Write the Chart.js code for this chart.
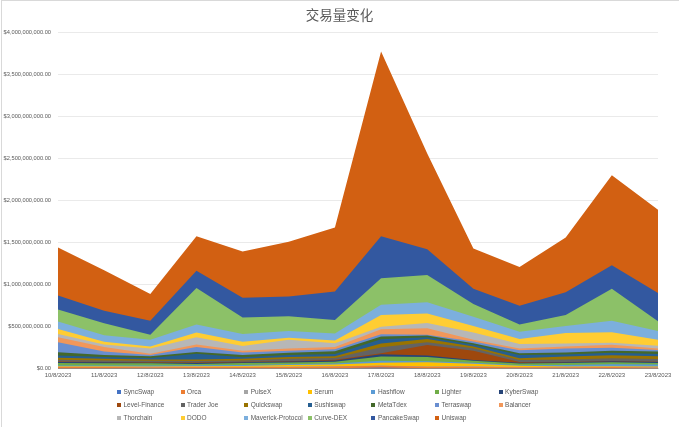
<!DOCTYPE html>
<html>
<head>
<meta charset="utf-8">
<script src="https://cdn.jsdelivr.net/npm/chart.js@4"></script>
<style>
html, body { margin: 0; padding: 0; background: #fff; }
#wrap { position: relative; width: 679px; height: 427px; overflow: hidden; }
#frame { position: absolute; left: 1px; top: 0; width: 677px; height: 426px; border-left: 1px solid #d9d9d9; border-top: 1px solid #d9d9d9; pointer-events: none; }
#legend { position: absolute; left: 117px; top: 385px; width: 450px; display: grid; grid-template-columns: repeat(7, 63.6px); grid-auto-rows: 13px; font: 6.5px "Liberation Sans", sans-serif; color: #595959; white-space: nowrap; }
#legend span { display: flex; align-items: center; line-height: 13px; }
#legend i { display: inline-block; width: 4px; height: 4px; margin-right: 2.5px; flex: none; }
</style>
</head>
<body>
<div id="wrap">
<canvas id="chart" width="679" height="427"></canvas>
<div id="frame"></div>
<div id="legend"></div>
</div>
<script>
const dates = ['10/8/2023', '11/8/2023', '12/8/2023', '13/8/2023', '14/8/2023', '15/8/2023', '16/8/2023', '17/8/2023', '18/8/2023', '19/8/2023', '20/8/2023', '21/8/2023', '22/8/2023', '23/8/2023'];

// values in millions of dollars
const syncSwap = [8, 8, 6, 8, 7, 8, 8, 15, 8, 8, 8, 8, 8, 8];
const orca = [12, 12, 12, 14, 13, 14, 18, 20, 15, 16, 10, 10, 12, 8];
const pulseX = [5, 5, 5, 5, 4, 4, 4, 5, 5, 6, 4, 4, 4, 6];
const serum = [5, 5, 4, 5, 8, 18, 20, 32, 50, 30, 13, 6, 6, 6];
const hashflow = [8, 8, 11, 10, 12, 10, 12, 23, 12, 12, 7, 16, 25, 22];
const lighter = [32, 27, 27, 16, 24, 21, 23, 50, 50, 23, 20, 26, 23, 20];
const kyberSwap = [12, 13, 8, 10, 10, 11, 13, 27, 18, 10, 10, 8, 12, 12];
const levelFinance = [4, 4, 4, 7, 6, 4, 10, 13, 126, 110, 8, 4, 4, 3];
const traderJoe = [22, 18, 18, 17, 16, 30, 20, 70, 31, 30, 25, 30, 31, 30];
const quickswap = [22, 20, 15, 18, 18, 20, 22, 45, 40, 20, 20, 33, 35, 35];
const sushiswap = [28, 20, 18, 70, 20, 25, 25, 50, 20, 20, 40, 25, 30, 25];
const metaTdex = [39, 25, 22, 20, 27, 25, 35, 35, 20, 20, 20, 25, 25, 30];
const terraswap = [118, 40, 15, 60, 30, 25, 22, 25, 11, 20, 35, 45, 35, 17];
const balancer = [59, 55, 15, 30, 20, 25, 26, 60, 75, 20, 20, 25, 35, 18];
const thorchain = [40, 30, 60, 85, 55, 105, 47, 30, 63, 85, 55, 35, 25, 35];
const dodo = [59, 30, 25, 55, 50, 25, 30, 140, 114, 80, 60, 125, 125, 70];
const maverick = [90, 80, 80, 95, 95, 80, 85, 120, 132, 110, 85, 85, 135, 105];
const curveDex = [142, 140, 60, 435, 195, 175, 160, 315, 325, 150, 85, 130, 380, 115];
const pancakeSwap = [165, 150, 165, 205, 235, 235, 340, 500, 305, 180, 225, 270, 280, 335];
const uniswap = [570, 480, 320, 410, 550, 650, 760, 2195, 1140, 480, 460, 650, 1070, 990];

const names = ['SyncSwap', 'Orca', 'PulseX', 'Serum', 'Hashflow', 'Lighter', 'KyberSwap', 'Level-Finance', 'Trader Joe', 'Quickswap', 'Sushiswap', 'MetaTdex', 'Terraswap', 'Balancer', 'Thorchain', 'DODO', 'Maverick-Protocol', 'Curve-DEX', 'PancakeSwap', 'Uniswap'];
const series = [syncSwap, orca, pulseX, serum, hashflow, lighter, kyberSwap, levelFinance, traderJoe, quickswap, sushiswap, metaTdex, terraswap, balancer, thorchain, dodo, maverick, curveDex, pancakeSwap, uniswap];
const colors = ['#4472c4', '#ed7d31', '#a5a5a5', '#ffc000', '#5b9bd5', '#70ad47', '#264478', '#9e480e', '#636363', '#997300', '#255e91', '#43682b', '#698ed0', '#f1975a', '#b7b7b7', '#ffcd33', '#7cafdd', '#8cc168', '#3358a0', '#d26012'];

const datasets = names.map((name, i) => ({
    label: name,
    data: series[i].map(v => v * 1000000),
    backgroundColor: colors[i],
    borderWidth: 0,
    fill: true,
    pointRadius: 0,
    tension: 0,
}));

new Chart(document.getElementById('chart').getContext('2d'), {
    type: 'line',
    data: { labels: dates, datasets },
    options: {
        responsive: false,
        animation: false,
        layout: { padding: { left: 0, right: 0, top: 0, bottom: 45 } },
        plugins: {
            legend: { display: false },
            tooltip: { enabled: false },
            title: {
                display: true,
                text: '交易量变化',
                color: '#595959',
                font: { family: '"Noto Sans CJK SC"', size: 13.5, weight: 'normal' },
                padding: { top: 7, bottom: 9 },
            },
        },
        scales: {
            x: {
                stacked: true,
                offset: false,
                grid: { display: false, drawTicks: false },
                border: { color: '#d9d9d9' },
                ticks: { color: '#595959', font: { family: '"Liberation Sans"', size: 6 }, autoSkip: false, maxRotation: 0, minRotation: 0, padding: 3 },
            },
            y: {
                stacked: true,
                min: 0,
                max: 4000000000,
                afterFit: (scale) => { scale.width = 58; },
                grid: { color: '#e4e4e4', lineWidth: 0.8, drawTicks: false },
                border: { display: false },
                ticks: {
                    stepSize: 500000000,
                    color: '#595959',
                    font: { family: '"Liberation Sans"', size: 5.7 },
                    padding: 7,
                    callback: (v) => '$' + v.toLocaleString('en-US', { minimumFractionDigits: 2, maximumFractionDigits: 2 }),
                },
            },
            // empty axis on the right, only there to reserve the margin so the title stays centred on the page
            spacer: {
                position: 'right',
                afterFit: (scale) => { scale.width = 21; },
                grid: { display: false, drawTicks: false },
                border: { display: false },
                ticks: { display: false },
            },
        },
    },
});

const legendEl = document.getElementById('legend');
legendEl.innerHTML = names.map((name, i) => `<span><i style="background:${colors[i]}"></i>${name}</span>`).join('');
</script>
</body>
</html>
